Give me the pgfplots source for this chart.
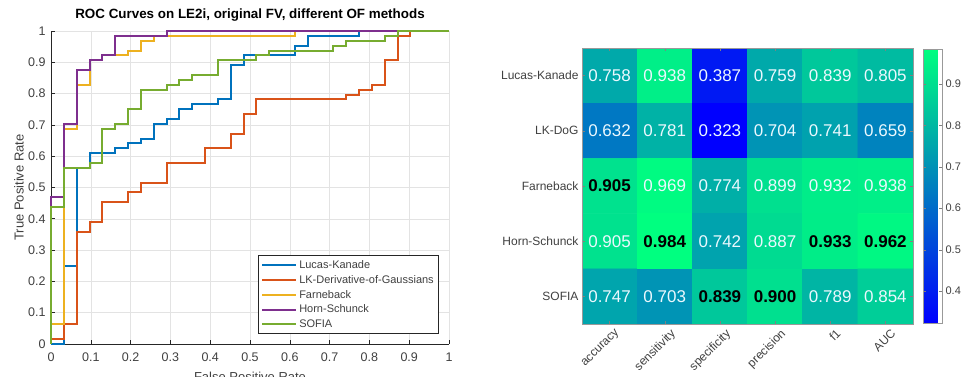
\documentclass[border=0pt]{standalone}
\usepackage{fontspec}
\setmainfont{Liberation Sans}
\usepackage{pgfplots}
\usepackage{pgfplotstable}
\pgfplotsset{compat=1.18, /pgf/number format/assume math mode=true}
\definecolor{mblue}{rgb}{0,0.447,0.741}
\definecolor{morange}{rgb}{0.85,0.325,0.098}
\definecolor{myellow}{rgb}{0.929,0.694,0.125}
\definecolor{mpurple}{rgb}{0.494,0.184,0.556}
\definecolor{mgreen}{rgb}{0.466,0.674,0.188}
\definecolor{axgray}{rgb}{0.15,0.15,0.15}
\definecolor{lblgray}{rgb}{0.25,0.25,0.25}
\pgfplotstableread{
x y C
0 0 0.758
1 0 0.938
2 0 0.387
3 0 0.759
4 0 0.839
5 0 0.805
0 1 0.632
1 1 0.781
2 1 0.323
3 1 0.704
4 1 0.741
5 1 0.659
0 2 0.905
1 2 0.969
2 2 0.774
3 2 0.899
4 2 0.932
5 2 0.938
0 3 0.905
1 3 0.984
2 3 0.742
3 3 0.887
4 3 0.933
5 3 0.962
0 4 0.747
1 4 0.703
2 4 0.839
3 4 0.900
4 4 0.789
5 4 0.854
}\heat
\begin{document}
\begin{tikzpicture}
\useasboundingbox (0pt,0pt) rectangle (962pt,377pt);
\begin{axis}[
  at={(51pt,33pt)}, anchor=south west,
  scale only axis, width=398pt, height=313pt,
  xmin=0, xmax=1, ymin=0, ymax=1,
  xtick={0,0.1,0.2,0.3,0.4,0.5,0.6,0.7,0.8,0.9,1},
  ytick={0,0.1,0.2,0.3,0.4,0.5,0.6,0.7,0.8,0.9,1},
  axis x line*=bottom, axis y line*=left,
  axis line style={axgray, line width=0.6pt, -},
  tick align=inside, major tick length=4pt,
  tick style={axgray, line width=0.6pt},
  grid=major, grid style={gray!22, line width=0.5pt},
  ticklabel style={font=\fontsize{12.5}{14}\selectfont, text=lblgray},
  xticklabel style={yshift=-5pt},
  yticklabel style={xshift=-2pt},
  xlabel={False Positive Rate}, ylabel={True Positive Rate},
  label style={font=\fontsize{13}{15}\selectfont, text=lblgray},
  xlabel style={at={(axis description cs:0.5,0)}, anchor=north, yshift=-28pt, inner sep=0pt},
  ylabel style={at={(axis description cs:-0.0804,0.5)}, anchor=center, inner sep=0pt},
  title={ROC Curves on LE2i, original FV, different OF methods},
  title style={at={(axis description cs:0.5,1)}, anchor=base, yshift=6pt, font=\bfseries\fontsize{13.4}{15}\selectfont, text=black},
  clip=false,
  legend cell align=left,
  legend style={at={(0.975,0.032)}, anchor=south east, draw=axgray, line width=0.6pt,
    font=\fontsize{11}{13}\selectfont, text=lblgray, row sep=0pt,
    nodes={inner ysep=2.7pt, inner xsep=2pt}},
  legend image code/.code={\draw[#1, line width=2pt] (0pt,0pt) -- (34pt,0pt);},
]
\addplot[mblue, line width=2pt] coordinates {(0,0)(0.0323,0)(0.0323,0.25)(0.0645,0.25)(0.0645,0.5625)(0.0968,0.5625)(0.0968,0.6094)(0.1613,0.6094)(0.1613,0.625)(0.1935,0.625)(0.1935,0.6406)(0.2258,0.6406)(0.2258,0.6563)(0.2581,0.6563)(0.2581,0.7031)(0.2903,0.7031)(0.2903,0.7188)(0.3226,0.7188)(0.3226,0.75)(0.3548,0.75)(0.3548,0.7656)(0.4194,0.7656)(0.4194,0.7813)(0.4516,0.7813)(0.4516,0.8906)(0.4839,0.8906)(0.4839,0.9219)(0.6129,0.9219)(0.6129,0.9531)(0.6452,0.9531)(0.6452,0.9844)(0.7742,0.9844)(0.7742,1)(1,1)};
\addlegendentry{Lucas-Kanade}
\addplot[morange, line width=2pt] coordinates {(0,0)(0,0.0156)(0.0323,0.0156)(0.0323,0.0625)(0.0645,0.0625)(0.0645,0.3594)(0.0968,0.3594)(0.0968,0.3906)(0.1290,0.3906)(0.1290,0.4531)(0.1935,0.4531)(0.1935,0.4844)(0.2258,0.4844)(0.2258,0.5156)(0.2903,0.5156)(0.2903,0.5781)(0.3871,0.5781)(0.3871,0.625)(0.4516,0.625)(0.4516,0.6719)(0.4839,0.6719)(0.4839,0.7344)(0.5161,0.7344)(0.5161,0.7813)(0.7419,0.7813)(0.7419,0.7969)(0.7742,0.7969)(0.7742,0.8125)(0.8065,0.8125)(0.8065,0.8281)(0.8387,0.8281)(0.8387,0.9063)(0.8710,0.9063)(0.8710,0.9844)(0.9032,0.9844)(0.9032,1)(1,1)};
\addlegendentry{LK-Derivative-of-Gaussians}
\addplot[myellow, line width=2pt] coordinates {(0,0)(0,0.0625)(0.0323,0.0625)(0.0323,0.6875)(0.0645,0.6875)(0.0645,0.8281)(0.0968,0.8281)(0.0968,0.9063)(0.1290,0.9063)(0.1290,0.9219)(0.1935,0.9219)(0.1935,0.9375)(0.2258,0.9375)(0.2258,0.9688)(0.2581,0.9688)(0.2581,0.9844)(0.6129,0.9844)(0.6129,1)(1,1)};
\addlegendentry{Farneback}
\addplot[mpurple, line width=2pt] coordinates {(0,0)(0,0.4688)(0.0323,0.4688)(0.0323,0.7031)(0.0645,0.7031)(0.0645,0.875)(0.0968,0.875)(0.0968,0.9063)(0.1290,0.9063)(0.1290,0.9219)(0.1613,0.9219)(0.1613,0.9844)(0.2903,0.9844)(0.2903,1)(1,1)};
\addlegendentry{Horn-Schunck}
\addplot[mgreen, line width=2pt] coordinates {(0,0)(0,0.4375)(0.0323,0.4375)(0.0323,0.5625)(0.0968,0.5625)(0.0968,0.5781)(0.1290,0.5781)(0.1290,0.6875)(0.1613,0.6875)(0.1613,0.7031)(0.1935,0.7031)(0.1935,0.75)(0.2258,0.75)(0.2258,0.8125)(0.2903,0.8125)(0.2903,0.8281)(0.3226,0.8281)(0.3226,0.8438)(0.3548,0.8438)(0.3548,0.8594)(0.4194,0.8594)(0.4194,0.9063)(0.5161,0.9063)(0.5161,0.9219)(0.5484,0.9219)(0.5484,0.9375)(0.7097,0.9375)(0.7097,0.9531)(0.7419,0.9531)(0.7419,0.9688)(0.8387,0.9688)(0.8387,0.9844)(0.8710,0.9844)(0.8710,1)(1,1)};
\addlegendentry{SOFIA}
\end{axis}

\begin{axis}[
  at={(582pt,53pt)}, anchor=south west,
  scale only axis, width=331pt, height=276pt,
  xmin=-0.5, xmax=5.5, ymin=-0.5, ymax=4.5, y dir=reverse,
  enlargelimits=false,
  xtick={0,1,2,3,4,5}, ytick={0,1,2,3,4},
  xticklabels={accuracy,sensitivity,specificity,precision,f1,AUC},
  yticklabels={Lucas-Kanade,LK-DoG,Farneback,Horn-Schunck,SOFIA},
  tick align=inside, major tick length=3pt, tick style={gray, line width=0.5pt},
  axis line style={gray!80, line width=0.6pt},
  xticklabel style={rotate=45, anchor=north east, xshift=4pt, yshift=-3pt, font=\fontsize{12}{14}\selectfont, text=lblgray},
  yticklabel style={font=\fontsize{12}{14}\selectfont, text=lblgray},
  colormap={winter}{rgb(0pt)=(0,0,1); rgb(1pt)=(0,1,0.5)},
  point meta min=0.323, point meta max=0.984,
  colorbar,
  colorbar style={
    at={(parent axis.north east)}, anchor=north west, xshift=1.5pt, yshift=-1pt,
    scale only axis, width=19pt, height=274pt,
    ytick={0.4,0.5,0.6,0.7,0.8,0.9},
    yticklabel style={font=\fontsize{11}{13}\selectfont, text=lblgray,
      /pgf/number format/fixed, /pgf/number format/precision=1},
    tick align=inside, major tick length=3pt, tick style={gray},
    axis line style={gray!80, line width=0.6pt},
    yticklabel pos=right,
  },
  axis on top,
]
\addplot[matrix plot*, mesh/cols=6, point meta=explicit] table[meta=C]{\heat};
\addplot[draw=none, mark=none, point meta=explicit symbolic, nodes near coords,
  nodes near coords style={font=\fontsize{17}{20}\selectfont, text=white!92!cyan, anchor=center}]
  coordinates {(0,0)[0.758](1,0)[0.938](2,0)[0.387](3,0)[0.759](4,0)[0.839](5,0)[0.805]
  (0,1)[0.632](1,1)[0.781](2,1)[0.323](3,1)[0.704](4,1)[0.741](5,1)[0.659]
  (1,2)[0.969](2,2)[0.774](3,2)[0.899](4,2)[0.932](5,2)[0.938]
  (0,3)[0.905](2,3)[0.742](3,3)[0.887]
  (0,4)[0.747](1,4)[0.703](4,4)[0.789](5,4)[0.854]};
\addplot[draw=none, mark=none, point meta=explicit symbolic, nodes near coords,
  nodes near coords style={font=\bfseries\fontsize{17}{20}\selectfont, text=black, anchor=center}]
  coordinates {(0,2)[0.905](1,3)[0.984](4,3)[0.933](5,3)[0.962](2,4)[0.839](3,4)[0.900]};
\end{axis}
\end{tikzpicture}
\end{document}
